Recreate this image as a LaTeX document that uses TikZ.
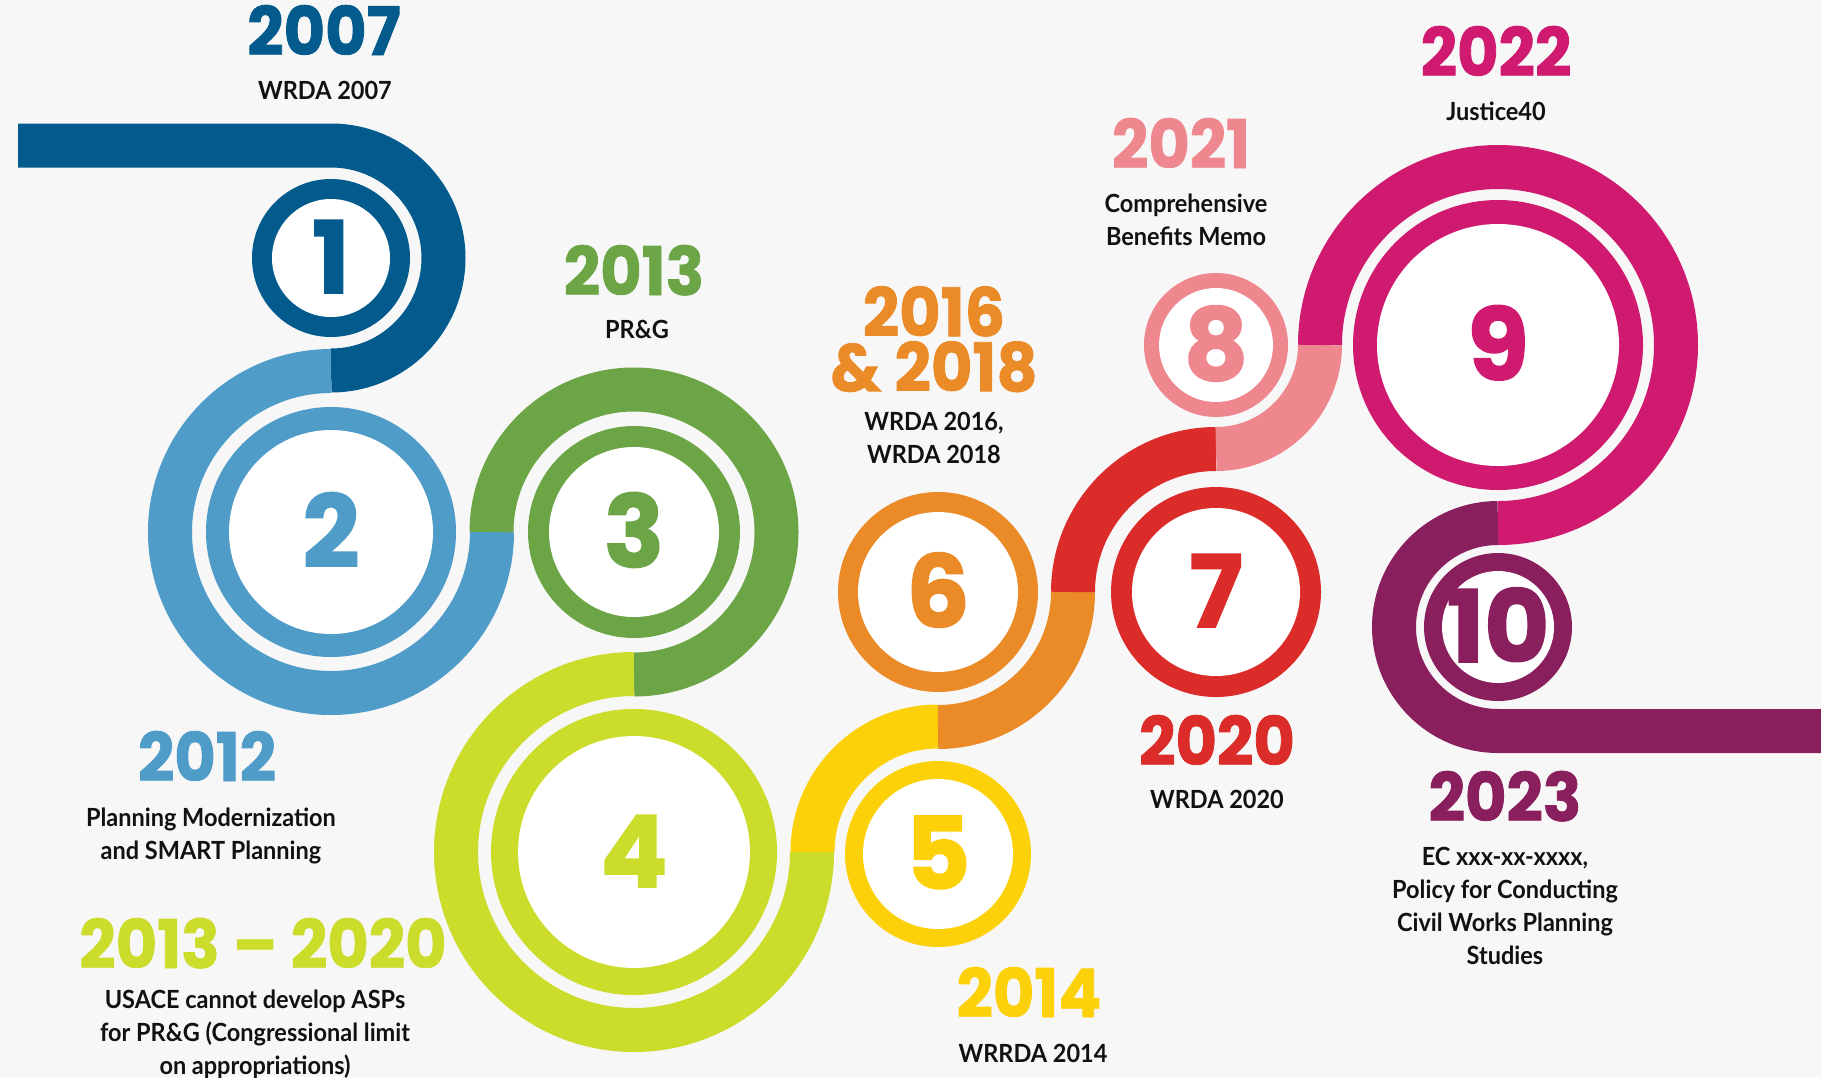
\documentclass[tikz,border=0pt]{standalone}
\usepackage{fontspec}
\setmainfont{Lato}
\newfontfamily\yrfont{Poppins}[FakeStretch=0.95,FakeBold=1.2]
\newfontfamily\numfont{Poppins}[FakeBold=1.5]
\newfontfamily\labfont{Lato}[FakeStretch=0.94]
\definecolor{bgc}{HTML}{F7F7F7}
\definecolor{cA}{HTML}{025B8C}
\definecolor{cB}{HTML}{4F9CC8}
\definecolor{cC}{HTML}{6CA545}
\definecolor{cD}{HTML}{CBDC2A}
\definecolor{cE}{HTML}{FDD109}
\definecolor{cF}{HTML}{EB8B27}
\definecolor{cG}{HTML}{DB2C2A}
\definecolor{cH}{HTML}{EF878E}
\definecolor{cI}{HTML}{D01A70}
\definecolor{cJ}{HTML}{8A1F5E}
\definecolor{txt}{HTML}{111111}
\newcommand\labrule{\rule{0pt}{24pt}}
\newcommand\yrrule{\rule{0pt}{50pt}}
\tikzset{
  band/.style={line width=44pt, line cap=butt},
  yr/.style={font=\yrfont\bfseries\fontsize{67}{55}\selectfont, inner sep=0pt, anchor=base},
  yrml/.style={font=\yrfont\bfseries\fontsize{67}{55}\selectfont, inner sep=0pt, anchor=north, align=center},
  lab/.style={font=\labfont\bfseries\fontsize{25}{33}\selectfont, text=txt, inner sep=0pt, anchor=north, align=center},
  num/.style={font=\numfont\bfseries\fontsize{100}{100}\selectfont, inner sep=0pt, text height=70pt, text depth=0pt, anchor=center},
}
\begin{document}
\begin{tikzpicture}[x=1pt,y=1pt]
\useasboundingbox (0,0) rectangle (1821,-1077);
\fill[bgc] (0,0) rectangle (1821,-1077);
% centres
\coordinate (C1) at (331,-258);
\coordinate (C2) at (331,-532);
\coordinate (C3) at (634,-532);
\coordinate (C4) at (634,-852);
\coordinate (C5) at (938,-852);
\coordinate (R5) at (938,-854);
\coordinate (C6) at (938,-592);
\coordinate (C7) at (1216,-592);
\coordinate (C8) at (1216,-345);
\coordinate (C9) at (1498,-345);
\coordinate (C10) at (1498,-627);
\coordinate (S) at (18,-145.5);
\coordinate (E) at (1822,-731);
% bands
\draw[band,cA] (S) -- ([shift={(90:112.5)}]C1) arc[start angle=90, end angle=-90, radius=112.5pt];
\draw[band,cB] ([shift={(90:161)}]C2) arc[start angle=90, end angle=360, radius=161pt];
\draw[band,cC] ([shift={(180:142.5)}]C3) arc[start angle=180, end angle=-90, radius=142.5pt];
\draw[band,cD] ([shift={(90:178)}]C4) arc[start angle=90, end angle=360, radius=178pt];
\draw[band,cE] ([shift={(180:125.5)}]C5) arc[start angle=180, end angle=90, radius=125.5pt];
\draw[band,cF] ([shift={(-90:135)}]C6) arc[start angle=-90, end angle=0, radius=135pt];
\draw[band,cG] ([shift={(180:143)}]C7) arc[start angle=180, end angle=90, radius=143pt];
\draw[band,cH] ([shift={(-90:104)}]C8) arc[start angle=-90, end angle=0, radius=104pt];
\draw[band,cI] ([shift={(180:178)}]C9) arc[start angle=180, end angle=-90, radius=178pt];
\draw[band,cJ] ([shift={(90:104)}]C10) arc[start angle=90, end angle=270, radius=104pt] -- (E);
% rings
\fill[cA] (C1) circle[radius=79pt]; \fill[white] (C1) circle[radius=59pt];
\fill[cB] (C2) circle[radius=125pt]; \fill[white] (C2) circle[radius=102pt];
\fill[cC] (C3) circle[radius=106pt]; \fill[white] (C3) circle[radius=85pt];
\fill[cD] (C4) circle[radius=143pt]; \fill[white] (C4) circle[radius=116pt];
\fill[cE] (R5) circle[radius=93pt]; \fill[white] (R5) circle[radius=75pt];
\fill[cF] (C6) circle[radius=100pt]; \fill[white] (C6) circle[radius=80pt];
\fill[cG] (C7) circle[radius=105pt]; \fill[white] (C7) circle[radius=84pt];
\fill[cH] (C8) circle[radius=72pt]; \fill[white] (C8) circle[radius=57pt];
\fill[cI] (C9) circle[radius=145pt]; \fill[white] (C9) circle[radius=121pt];
\fill[cJ] (C10) circle[radius=74pt]; \fill[white] (C10) circle[radius=56pt];
% numbers
\node[num,text=cA] (n1) at (C1) {1};
\node[num,text=cB] (n2) at (C2) {2};
\node[num,text=cC] (n3) at (C3) {3};
\node[num,text=cD] (n4) at (C4) {4};
\node[num,text=cE] (n5) at (R5) {5};
\node[num,text=cF] (n6) at (C6) {6};
\node[num,text=cG] (n7) at (C7) {7};
\node[num,text=cH] (n8) at (C8) {8};
\node[num,text=cI] (n9) at (C9) {9};
\node[num,text=cJ] (n10) at (C10) {10};
% years
\node[yr,text=cA] (y1) at (324,-55) {2007};
\node[yr,text=cB] (y2) at (207,-781) {2012};
\node[yr,text=cC] (y3) at (634,-295) {2013};
\node[yr,text=cD] (y4) at (263,-968) {2013 \textendash\ 2020};
\node[yr,text=cE] (y5) at (1029,-1017) {2014};
\node[yrml,text=cF] (y6) at (934,-286) {\yrrule 2016\\\& 2018};
\node[yr,text=cG] (y7) at (1217,-765) {2020};
\node[yr,text=cH] (y8) at (1181,-168) {2021};
\node[yr,text=cI] (y9) at (1496,-76) {2022};
\node[yr,text=cJ] (y10) at (1505,-821) {2023};
% labels
\node[lab] (l1) at (325,-75) {\labrule WRDA 2007};
\node[lab] (l2) at (211,-802) {\labrule Planning Modernization\\and SMART Planning};
\node[lab] (l3) at (637,-314) {\labrule PR\&G};
\node[lab] (l4) at (255,-984) {\labrule USACE cannot develop ASPs\\for PR\&G (Congressional limit\\on appropriations)};
\node[lab] (l5) at (1033,-1038) {\labrule WRRDA 2014};
\node[lab] (l6) at (934,-406) {\labrule WRDA 2016,\\WRDA 2018};
\node[lab] (l7) at (1217,-784) {\labrule WRDA 2020};
\node[lab] (l8) at (1186,-188) {\labrule Comprehensive\\Benefits Memo};
\node[lab] (l9) at (1496,-96) {\labrule Justice40};
\node[lab] (l10) at (1505,-841) {\labrule EC xxx-xx-xxxx,\\Policy for Conducting\\Civil Works Planning\\Studies};
\end{tikzpicture}
\end{document}
